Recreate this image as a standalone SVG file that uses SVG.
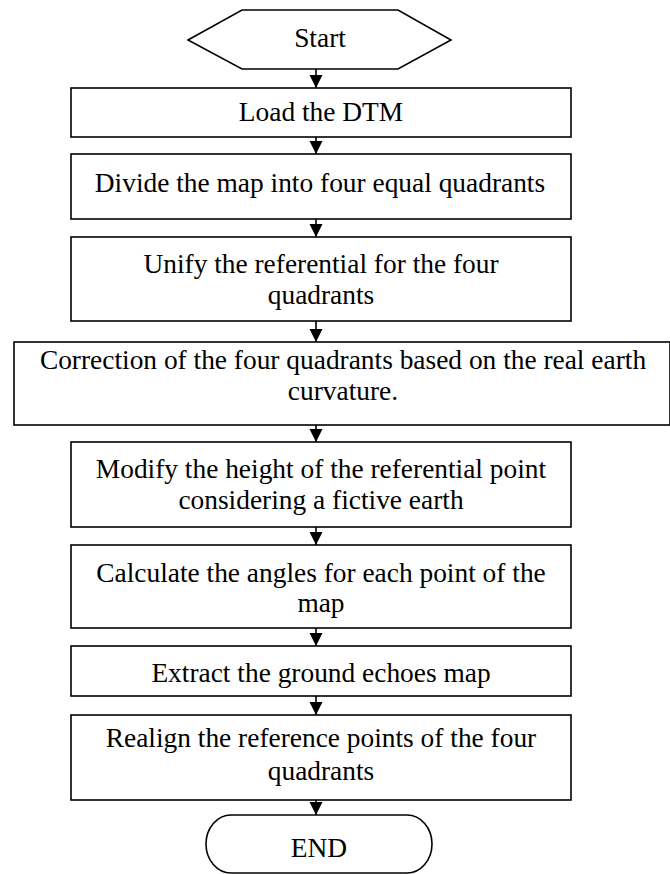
<svg xmlns="http://www.w3.org/2000/svg" width="670" height="874" viewBox="0 0 670 874">
<style>
.s{fill:#fff;stroke:#000;stroke-width:1.6}
.t{font-family:"Liberation Serif","Times New Roman",serif;font-size:27.4px;fill:#000;text-anchor:middle}
.c{stroke:#000;stroke-width:1.6;fill:none}
</style>
<defs>
<marker id="ah" markerUnits="userSpaceOnUse" markerWidth="14" markerHeight="14" viewBox="0 0 14 14" refX="13" refY="7" orient="auto">
<path d="M0,0.5 L13,7 L0,13.5 Z" fill="#000"/>
</marker>
</defs>
<rect width="670" height="874" fill="#fff"/>
<g id="start">
<polygon class="s" points="188,40 242,10 398,10 451,40 398,69 242,69"/>
<text class="t" x="320" y="47">Start</text>
</g>
<g id="load">
<rect class="s" x="71" y="88" width="500" height="49"/>
<text class="t" x="321" y="121">Load the DTM</text>
</g>
<g id="divide">
<rect class="s" x="71" y="154" width="500" height="65"/>
<text class="t" x="320" y="192">Divide the map into four equal quadrants</text>
</g>
<g id="unify">
<rect class="s" x="71" y="237" width="500" height="84"/>
<text class="t" x="321" y="273">Unify the referential for the four</text>
<text class="t" x="321" y="303.5">quadrants</text>
</g>
<g id="correction">
<rect class="s" x="14" y="342" width="656" height="83"/>
<text class="t" x="343" y="369">Correction of the four quadrants based on the real earth</text>
<text class="t" x="343" y="400">curvature.</text>
</g>
<g id="modify">
<rect class="s" x="71" y="442" width="500" height="85"/>
<text class="t" x="321" y="478">Modify the height of the referential point</text>
<text class="t" x="321" y="509">considering a fictive earth</text>
</g>
<g id="calculate">
<rect class="s" x="71" y="545" width="500" height="83"/>
<text class="t" x="321" y="581.5">Calculate the angles for each point of the</text>
<text class="t" x="321" y="612">map</text>
</g>
<g id="extract">
<rect class="s" x="71" y="646" width="500" height="50"/>
<text class="t" x="321" y="681.5">Extract the ground echoes map</text>
</g>
<g id="realign">
<rect class="s" x="71" y="715" width="500" height="85"/>
<text class="t" x="321" y="746.5">Realign the reference points of the four</text>
<text class="t" x="321" y="780">quadrants</text>
</g>
<g id="end">
<path class="s" d="M231,815 H407 A25,29 0 0 1 407,873 H231 A25,29 0 0 1 231,815 Z"/>
<text class="t" x="319" y="857">END</text>
</g>
<g id="connectors">
<line class="c" x1="316" y1="69" x2="316" y2="88" marker-end="url(#ah)"/>
<line class="c" x1="316" y1="137" x2="316" y2="154" marker-end="url(#ah)"/>
<line class="c" x1="316" y1="219" x2="316" y2="237" marker-end="url(#ah)"/>
<line class="c" x1="316" y1="321" x2="316" y2="342" marker-end="url(#ah)"/>
<line class="c" x1="316" y1="425" x2="316" y2="442" marker-end="url(#ah)"/>
<line class="c" x1="316" y1="527" x2="316" y2="545" marker-end="url(#ah)"/>
<line class="c" x1="316" y1="628" x2="316" y2="646" marker-end="url(#ah)"/>
<line class="c" x1="316" y1="696" x2="316" y2="715" marker-end="url(#ah)"/>
<line class="c" x1="316" y1="800" x2="316" y2="815" marker-end="url(#ah)"/>
</g>
</svg>
